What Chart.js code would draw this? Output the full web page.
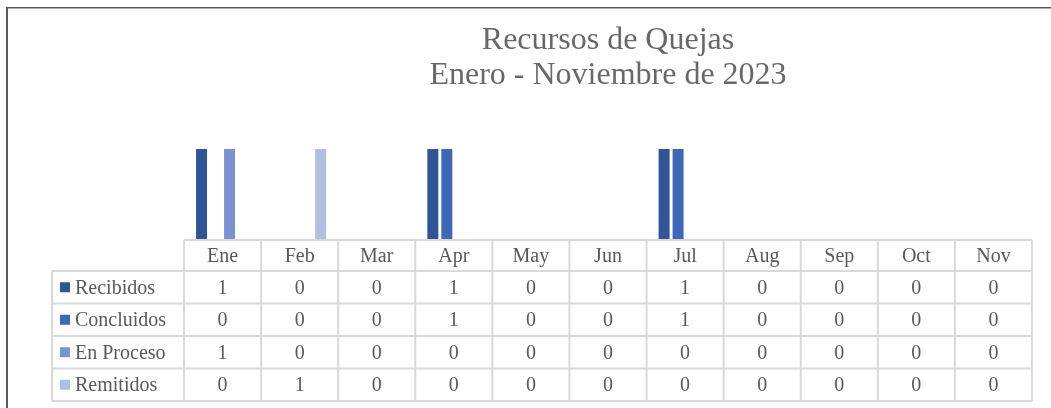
<!DOCTYPE html>
<html>
<head>
<meta charset="utf-8">
<script src="https://cdn.jsdelivr.net/npm/chart.js@4/dist/chart.umd.min.js"></script>
<style>
  html, body { margin: 0; padding: 0; background: #fff; }
  canvas { display: block; }
</style>
</head>
<body>
<canvas id="quejasChart" width="1051" height="408"></canvas>
<script>
// datos del gráfico
const categories = ['Ene', 'Feb', 'Mar', 'Apr', 'May', 'Jun', 'Jul', 'Aug', 'Sep', 'Oct', 'Nov'];
const recibidos = [1, 0, 0, 1, 0, 0, 1, 0, 0, 0, 0];
const concluidos = [0, 0, 0, 1, 0, 0, 1, 0, 0, 0, 0];
const enProceso = [1, 0, 0, 0, 0, 0, 0, 0, 0, 0, 0];
const remitidos = [0, 1, 0, 0, 0, 0, 0, 0, 0, 0, 0];
const seriesNames = ['Recibidos', 'Concluidos', 'En Proceso', 'Remitidos'];
const seriesColors = ['#2f5597', '#3f67b8', '#7a93d0', '#b2bee0'];
const titleLines = ['Recursos de Quejas', 'Enero - Noviembre de 2023'];

const textColor = '#595959';
const gridColor = '#d9d9d9';
const fontFamily = '"Liberation Serif", "Times New Roman", serif';

// tabla de datos debajo de las barras
const dataTable = {
    id: 'dataTable',
    beforeDraw(chart) {
        const ctx = chart.ctx;
        ctx.save();
        ctx.fillStyle = '#fff';
        ctx.fillRect(0, 0, chart.width, chart.height);
        // marco
        ctx.fillStyle = '#5a5a5a';
        ctx.fillRect(6, 7, 2, chart.height - 7);
        ctx.fillRect(6, 7, chart.width - 6, 1.5);
        ctx.restore();
    },
    afterDraw(chart) {
        const ctx = chart.ctx;
        const x = chart.scales.x;
        const area = chart.chartArea;
        const half = (x.getPixelForValue(1) - x.getPixelForValue(0)) / 2;
        const left = x.getPixelForValue(0) - half;
        const right = x.getPixelForValue(categories.length - 1) + half;
        const labelLeft = 52;
        const headTop = area.bottom;
        const rowTops = [271, 303.5, 336, 368.5, 401];

        ctx.save();
        ctx.strokeStyle = gridColor;
        ctx.lineWidth = 2;
        ctx.beginPath();
        ctx.moveTo(left, headTop); ctx.lineTo(right, headTop);
        rowTops.forEach(y => { ctx.moveTo(labelLeft, y); ctx.lineTo(right, y); });
        for (let i = 0; i <= categories.length; i++) {
            const cx = left + i * half * 2;
            ctx.moveTo(cx, headTop); ctx.lineTo(cx, rowTops[rowTops.length - 1]);
        }
        ctx.moveTo(labelLeft, rowTops[0]); ctx.lineTo(labelLeft, rowTops[rowTops.length - 1]);
        ctx.stroke();

        ctx.fillStyle = textColor;
        ctx.font = '20px ' + fontFamily;
        ctx.textAlign = 'center';
        ctx.textBaseline = 'middle';
        categories.forEach((c, i) => {
            ctx.fillText(c, x.getPixelForValue(i), (headTop + rowTops[0]) / 2 + 1);
        });

        chart.data.datasets.forEach((ds, r) => {
            const yMid = (rowTops[r] + rowTops[r + 1]) / 2 + 1;
            ctx.fillStyle = ds.backgroundColor;
            ctx.fillRect(60, yMid - 6, 10, 10);
            ctx.fillStyle = textColor;
            ctx.textAlign = 'left';
            ctx.fillText(ds.label, 75, yMid);
            ctx.textAlign = 'center';
            ds.data.forEach((v, i) => {
                ctx.fillText(String(v), x.getPixelForValue(i), yMid);
            });
        });
        ctx.restore();
    }
};

const series = [recibidos, concluidos, enProceso, remitidos];

new Chart(document.getElementById('quejasChart'), {
    type: 'bar',
    data: {
        labels: categories,
        datasets: series.map((d, i) => ({
            label: seriesNames[i],
            data: d,
            backgroundColor: seriesColors[i],
            borderWidth: 0,
            categoryPercentage: 0.726,
            barPercentage: 0.786
        }))
    },
    options: {
        responsive: false,
        animation: false,
        layout: {
            padding: { left: 184, right: 19, top: 8, bottom: 168 }
        },
        plugins: {
            legend: { display: false },
            tooltip: { enabled: false },
            title: {
                display: true,
                text: titleLines,
                color: '#686868',
                font: { family: fontFamily, size: 32, weight: 'normal', lineHeight: 1.1 },
                padding: { top: 15, bottom: 55.6 }
            }
        },
        scales: {
            x: { display: false },
            y: { display: false, min: 0, max: 1 }
        }
    },
    plugins: [dataTable]
});
</script>
</body>
</html>
